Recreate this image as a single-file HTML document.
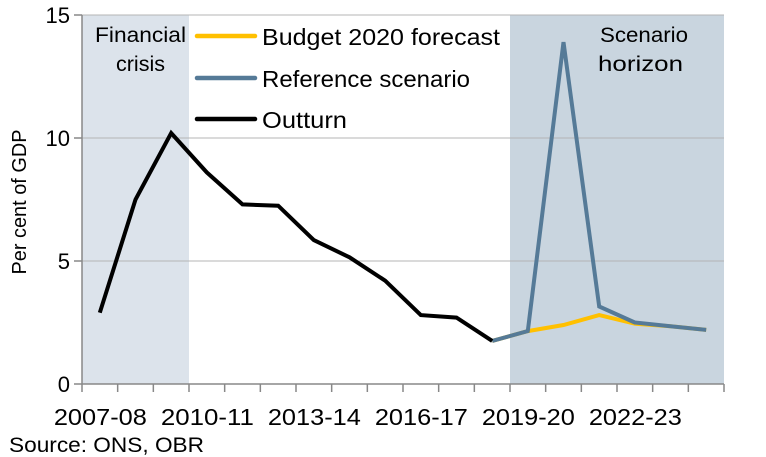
<!DOCTYPE html>
<html><head><meta charset="utf-8"><style>
body{margin:0;background:#fff}
svg{display:block;font-family:"Liberation Sans",sans-serif}
</style></head><body>
<svg id="c" width="766" height="457" viewBox="0 0 766 457">
<g id="g"></g>
</svg>
<script>
const categories=["2007-08","2008-09","2009-10","2010-11","2011-12","2012-13","2013-14","2014-15","2015-16","2016-17","2017-18","2018-19","2019-20","2020-21","2021-22","2022-23","2023-24","2024-25"];
const outturn=[2.9,7.5,10.2,8.6,7.3,7.25,5.85,5.15,4.2,2.8,2.7,1.75,null,null,null,null,null,null];
const budget=[null,null,null,null,null,null,null,null,null,null,null,1.75,2.15,2.4,2.8,2.45,2.35,2.2];
const reference=[null,null,null,null,null,null,null,null,null,null,null,1.75,2.15,13.9,3.15,2.5,2.35,2.2];
const yTicks=[0,5,10,15];
const xLabelIdx=[0,3,6,9,12,15];
const NS="http://www.w3.org/2000/svg";
const g=document.getElementById('g');
const L=82,R=724,T=15,B=384;
const bw=(R-L)/categories.length;
const x=i=>L+bw*(i+0.5);
const y=v=>B-(B-T)*v/15;
function el(t,a,txt){const e=document.createElementNS(NS,t);for(const k in a)e.setAttribute(k,a[k]);if(txt!=null)e.textContent=txt;g.appendChild(e);return e;}
let e;
e=el('rect',{x:L,y:T,width:bw*3,height:B-T,fill:'#dce3eb'});


e=el('rect',{x:L+bw*12,y:T,width:bw*6,height:B-T,fill:'#c9d5df'});


yTicks.forEach(v=>{
 if(v>0){e=el('line',{x1:L,x2:R,y1:y(v),y2:y(v),stroke:'#b4b4b4','stroke-width':1});
 
 }
 e=el('line',{x1:L-8,x2:L,y1:y(v),y2:y(v),stroke:'#888','stroke-width':1.5});
 
 
 e=el('text',{x:L-12,y:y(v)+8,'text-anchor':'end','font-size':22,fill:'#000'},v);
 
 
});
e=el('line',{x1:L,x2:L,y1:T,y2:B,stroke:'#888','stroke-width':1.5});


e=el('line',{x1:L,x2:R,y1:B,y2:B,stroke:'#888','stroke-width':1.5});


for(let i=0;i<=categories.length;i++){
 e=el('line',{x1:L+bw*i,x2:L+bw*i,y1:B,y2:B+8,stroke:'#888','stroke-width':1.5});
 
 
}
xLabelIdx.forEach(i=>{
 e=el('text',{x:x(i)-46,y:425,'font-size':23,fill:'#000',textLength:93,lengthAdjust:'spacingAndGlyphs'},categories[i]);
 
 
});
function line(arr,col,name){
 const pts=[];arr.forEach((v,i)=>{if(v!=null)pts.push(x(i).toFixed(1)+','+y(v).toFixed(1));});
 const p=el('polyline',{points:pts.join(' '),fill:'none',stroke:col,'stroke-width':4,'stroke-linejoin':'miter'});
 
 
}
line(budget,'#ffc000','budget-2020-forecast-line');
line(reference,'#557a97','reference-scenario-line');
line(outturn,'#000','outturn-line');
function lab(t,x0,yy,w,name){
 e=el('text',{x:x0,y:yy,'font-size':21,fill:'#000',textLength:w,lengthAdjust:'spacingAndGlyphs'},t);
 
 
}
lab('Financial',95,42,91,'financial-crisis-label');
lab('crisis',116,71,49,'financial-crisis-label');
lab('Scenario',600,42,88,'scenario-horizon-label');
lab('horizon',598,71,85,'scenario-horizon-label');
const leg=[['Budget 2020 forecast','#ffc000',36,238],['Reference scenario','#557a97',78,208],['Outturn','#000',119,85]];
leg.forEach(l=>{
 e=el('line',{x1:197,x2:255,y1:l[2],y2:l[2],stroke:l[1],'stroke-width':4.5,'stroke-linecap':'round'});
 
 
 e=el('text',{x:262,y:l[2]+9,'font-size':23,fill:'#000',textLength:l[3],lengthAdjust:'spacingAndGlyphs'},l[0]);
 
 
});
e=el('text',{x:0,y:0,'text-anchor':'middle','font-size':20,fill:'#000',textLength:145,lengthAdjust:'spacingAndGlyphs',transform:'translate(26,202) rotate(-90)'},'Per cent of GDP');


e=el('text',{x:9,y:452,'font-size':21,fill:'#000',textLength:195,lengthAdjust:'spacingAndGlyphs'},'Source: ONS, OBR');


</script>
</body></html>
